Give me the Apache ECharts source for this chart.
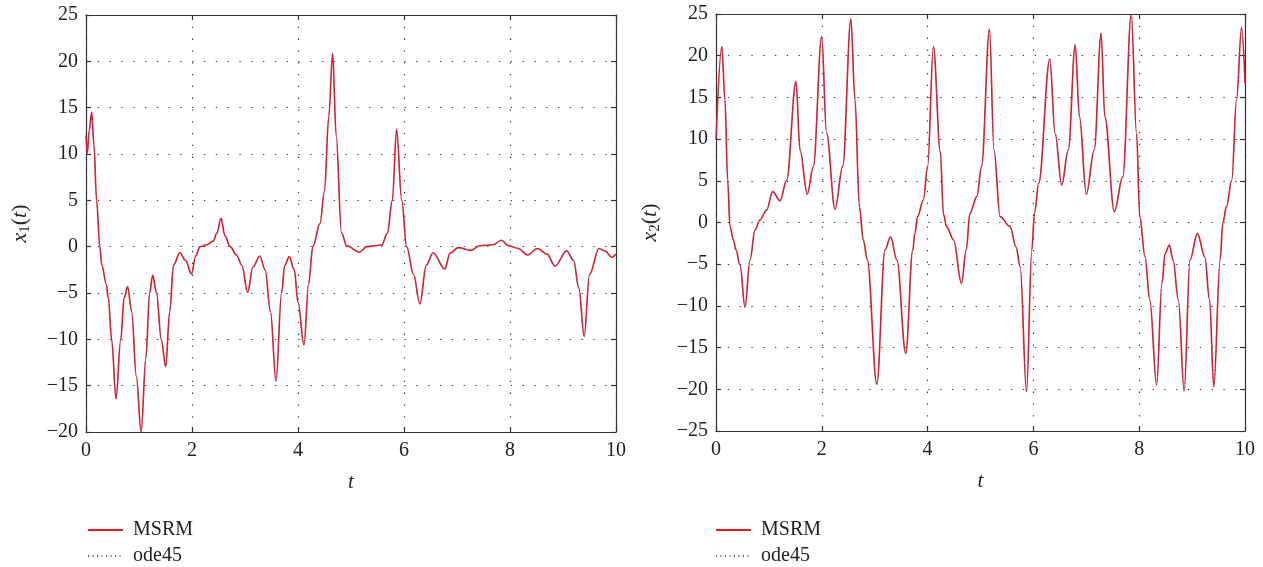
<!DOCTYPE html>
<html><head><meta charset="utf-8">
<script src="https://cdn.jsdelivr.net/npm/echarts@6/dist/echarts.min.js"></script>
<style>html,body{margin:0;padding:0;background:#fff}#c{width:1263px;height:567px}</style>
</head><body><div id="c"></div><script>
// time axis ticks
const tTicks = [0, 2, 4, 6, 8, 10];
const y1Ticks = [-20, -15, -10, -5, 0, 5, 10, 15, 20, 25];
const y2Ticks = [-25, -20, -15, -10, -5, 0, 5, 10, 15, 20, 25];
const seriesNames = ['MSRM', 'ode45'];

// x1(t): [t, value]
const x1Data = [
[0,12.0],[0.025,10.1],[0.06,12.5],[0.107,14.5],[0.15,11],[0.2,5],[0.26,0],[0.3,-2],[0.38,-4],
[0.42,-5.5],[0.485,-10.1],[0.566,-16.4],[0.654,-10.1],[0.72,-5.5],[0.786,-4.3],[0.86,-7],[0.95,-14],
[1.04,-20],[1.13,-12],[1.2,-5],[1.258,-3.1],[1.33,-5],[1.42,-10],[1.503,-12.95],[1.58,-7],[1.65,-2],
[1.77,-0.65],[1.88,-1.5],[1.99,-2.95],[2.07,-1.0],[2.15,0],[2.28,0.2],[2.4,0.6],[2.47,1.5],[2.547,3.06],
[2.62,1.2],[2.72,0],[2.84,-0.9],[2.94,-2.0],[3.05,-4.93],[3.15,-2.2],[3.28,-1.0],[3.38,-2.5],[3.48,-7],
[3.585,-14.5],[3.69,-5],[3.75,-2],[3.836,-1.08],[3.93,-2.5],[4.0,-6],[4.113,-10.6],[4.2,-4],[4.28,0],
[4.415,2.5],[4.5,6],[4.58,14],[4.654,20.9],[4.72,12],[4.82,1.5],[4.92,0.1],[5.157,-0.6],[5.297,0],
[5.58,0.18],[5.685,1.44],[5.78,5],[5.86,12.66],[5.957,5],[6.05,0],[6.18,-3],[6.30,-6.19],[6.42,-2],
[6.55,-0.65],[6.77,-2.4],[6.87,-0.7],[7.025,-0.1],[7.26,-0.4],[7.43,0.1],[7.68,0.2],[7.84,0.7],[7.97,0.1],
[8.16,-0.2],[8.33,-0.9],[8.52,-0.2],[8.7,-0.8],[8.85,-2.1],[9.07,-0.45],[9.2,-1.5],[9.3,-4.5],[9.40,-9.7],
[9.5,-3],[9.68,-0.2],[9.8,-0.5],[9.92,-1.15],[10,-0.8]
];

// x2(t): [t, value]
const x2Data = [
[0,9.9],[0.11,21.1],[0.17,14.7],[0.22,5.1],[0.265,-0.5],[0.33,-2.1],[0.378,-3.3],[0.454,-5.1],[0.548,-10.17],
[0.643,-4.5],[0.737,-0.9],[0.83,0.3],[0.958,1.5],[1.07,3.7],[1.21,2.6],[1.336,5.1],[1.512,16.9],[1.588,8.7],
[1.726,3.4],[1.84,6.7],[1.998,22.3],[2.09,10.7],[2.25,1.6],[2.395,6.7],[2.55,24.4],[2.628,14.7],[2.71,1.9],
[2.785,-2.1],[2.86,-4.5],[3.04,-19.4],[3.195,-3.3],[3.3,-1.7],[3.42,-4.5],[3.586,-15.7],[3.72,-3.3],
[3.76,-1.3],[3.81,0.7],[3.92,2.7],[4.0,6.7],[4.11,21.1],[4.24,8.5],[4.3,1.0],[4.36,-0.5],[4.49,-2.1],
[4.64,-7.3],[4.73,-3.3],[4.80,1.1],[4.93,3.1],[5.02,6.7],[5.17,23.2],[5.255,8.7],[5.37,0.7],[5.56,-0.5],
[5.67,-2.9],[5.75,-5.3],[5.87,-20.3],[5.97,-3.3],[6.02,1.1],[6.1,4.7],[6.31,19.6],[6.41,10.7],[6.535,4.5],
[6.66,8.7],[6.79,21.3],[6.87,12.7],[7.0,3.4],[7.15,8.7],[7.28,22.7],[7.35,12.7],[7.53,1.3],[7.69,5.5],
[7.85,25],[7.95,10.7],[8.01,0.7],[8.11,-4.1],[8.2,-9.3],[8.33,-19.5],[8.43,-7.3],[8.49,-3.7],[8.57,-2.7],
[8.64,-4.5],[8.74,-9.3],[8.85,-20.2],[8.96,-4.5],[9.1,-1.3],[9.24,-4.1],[9.33,-9.3],[9.41,-19.7],[9.53,-4.5],
[9.58,-0.1],[9.65,1.9],[9.75,5.1],[9.84,14.7],[9.935,23.4],[10,16.7]
];

const FONT = 'Liberation Serif';
const TXT = '#222';
const axisLineStyle = {color: '#333', width: 1.2};
const gridDots = {color: '#333', width: 1.2, type: [1.3, 10.5]};
const minus = v => String(v).replace('-', '\u2212');

function bottomX(g) {
  return {type: 'value', gridIndex: g, min: tTicks[0], max: tTicks[tTicks.length - 1], interval: tTicks[1] - tTicks[0],
    position: 'bottom',
    axisLine: {show: true, onZero: false, lineStyle: axisLineStyle},
    axisTick: {show: true, inside: true, length: 5, lineStyle: axisLineStyle},
    axisLabel: {color: TXT, fontFamily: FONT, fontSize: 20, margin: 9, formatter: minus},
    splitLine: {show: true, lineStyle: gridDots},
    name: 't', nameLocation: 'middle', nameGap: 40,
    nameTextStyle: {color: TXT, fontFamily: FONT, fontSize: 21, fontStyle: 'italic'}};
}
function topX(g) {
  return {type: 'value', gridIndex: g, min: tTicks[0], max: tTicks[tTicks.length - 1], interval: tTicks[1] - tTicks[0],
    position: 'top',
    axisLine: {show: true, onZero: false, lineStyle: axisLineStyle},
    axisTick: {show: true, inside: true, length: 5, lineStyle: axisLineStyle},
    axisLabel: {show: false}, splitLine: {show: false}};
}
function leftY(g, ticks, sub) {
  return {type: 'value', gridIndex: g, min: ticks[0], max: ticks[ticks.length - 1], interval: 5,
    position: 'left',
    axisLine: {show: true, onZero: false, lineStyle: axisLineStyle},
    axisTick: {show: true, inside: true, length: 5, lineStyle: axisLineStyle},
    axisLabel: {color: TXT, fontFamily: FONT, fontSize: 20, margin: 8, formatter: minus},
    splitLine: {show: true, lineStyle: gridDots},
    name: '{i|x}{s|' + sub + '}{n|(}{i|t}{n|)}', nameLocation: 'middle', nameGap: 53,
    nameTextStyle: {color: TXT, fontFamily: FONT, fontSize: 22,
      rich: {
        i: {fontFamily: FONT, fontSize: 22, fontStyle: 'italic', color: TXT},
        n: {fontFamily: FONT, fontSize: 22, color: TXT},
        s: {fontFamily: FONT, fontSize: 15, color: TXT, padding: [10, 0, 0, 0]}
      }}};
}
function rightY(g, ticks) {
  return {type: 'value', gridIndex: g, min: ticks[0], max: ticks[ticks.length - 1], interval: 5,
    position: 'right',
    axisLine: {show: true, onZero: false, lineStyle: axisLineStyle},
    axisTick: {show: true, inside: true, length: 5, lineStyle: axisLineStyle},
    axisLabel: {show: false}, splitLine: {show: false}};
}

function seriesPair(xi, yi, data) {
  return [
    {name: seriesNames[0], type: 'line', xAxisIndex: xi, yAxisIndex: yi, data: data, symbol: 'none',
      smooth: 0.35, smoothMonotone: 'x', lineStyle: {color: '#e8161f', width: 1.6}, itemStyle: {color: '#e8161f'},
      z: 3, animation: false},
    {name: seriesNames[1], type: 'line', xAxisIndex: xi, yAxisIndex: yi, data: data, symbol: 'none',
      smooth: 0.35, smoothMonotone: 'x', lineStyle: {color: '#4a64b0', width: 1, type: [1, 3.5]}, itemStyle: {color: '#4a64b0'},
      z: 4, animation: false}
  ];
}

function legendItem(name, left, top) {
  return {data: [name], orient: 'vertical', left: left, top: top, itemWidth: 35, itemHeight: 14,
    itemStyle: {opacity: 0},
    textStyle: {color: TXT, fontFamily: FONT, fontSize: 20, padding: [0, 0, 0, 5]}, selectedMode: false};
}

const chart = echarts.init(document.getElementById('c'), null, {renderer: 'canvas'});
chart.setOption({
  backgroundColor: '#fff',
  animation: false,
  grid: [
    {left: 86, top: 15, width: 530, height: 417},
    {left: 716, top: 14, width: 529, height: 417}
  ],
  xAxis: [bottomX(0), topX(0), bottomX(1), topX(1)],
  yAxis: [leftY(0, y1Ticks, 1), rightY(0, y1Ticks), leftY(1, y2Ticks, 2), rightY(1, y2Ticks)],
  legend: [
    legendItem(seriesNames[0], 82, 515), legendItem(seriesNames[1], 82, 541),
    legendItem(seriesNames[0], 710, 515), legendItem(seriesNames[1], 710, 541)
  ],
  series: [].concat(seriesPair(0, 0, x1Data), seriesPair(2, 2, x2Data))
});
</script></body></html>
